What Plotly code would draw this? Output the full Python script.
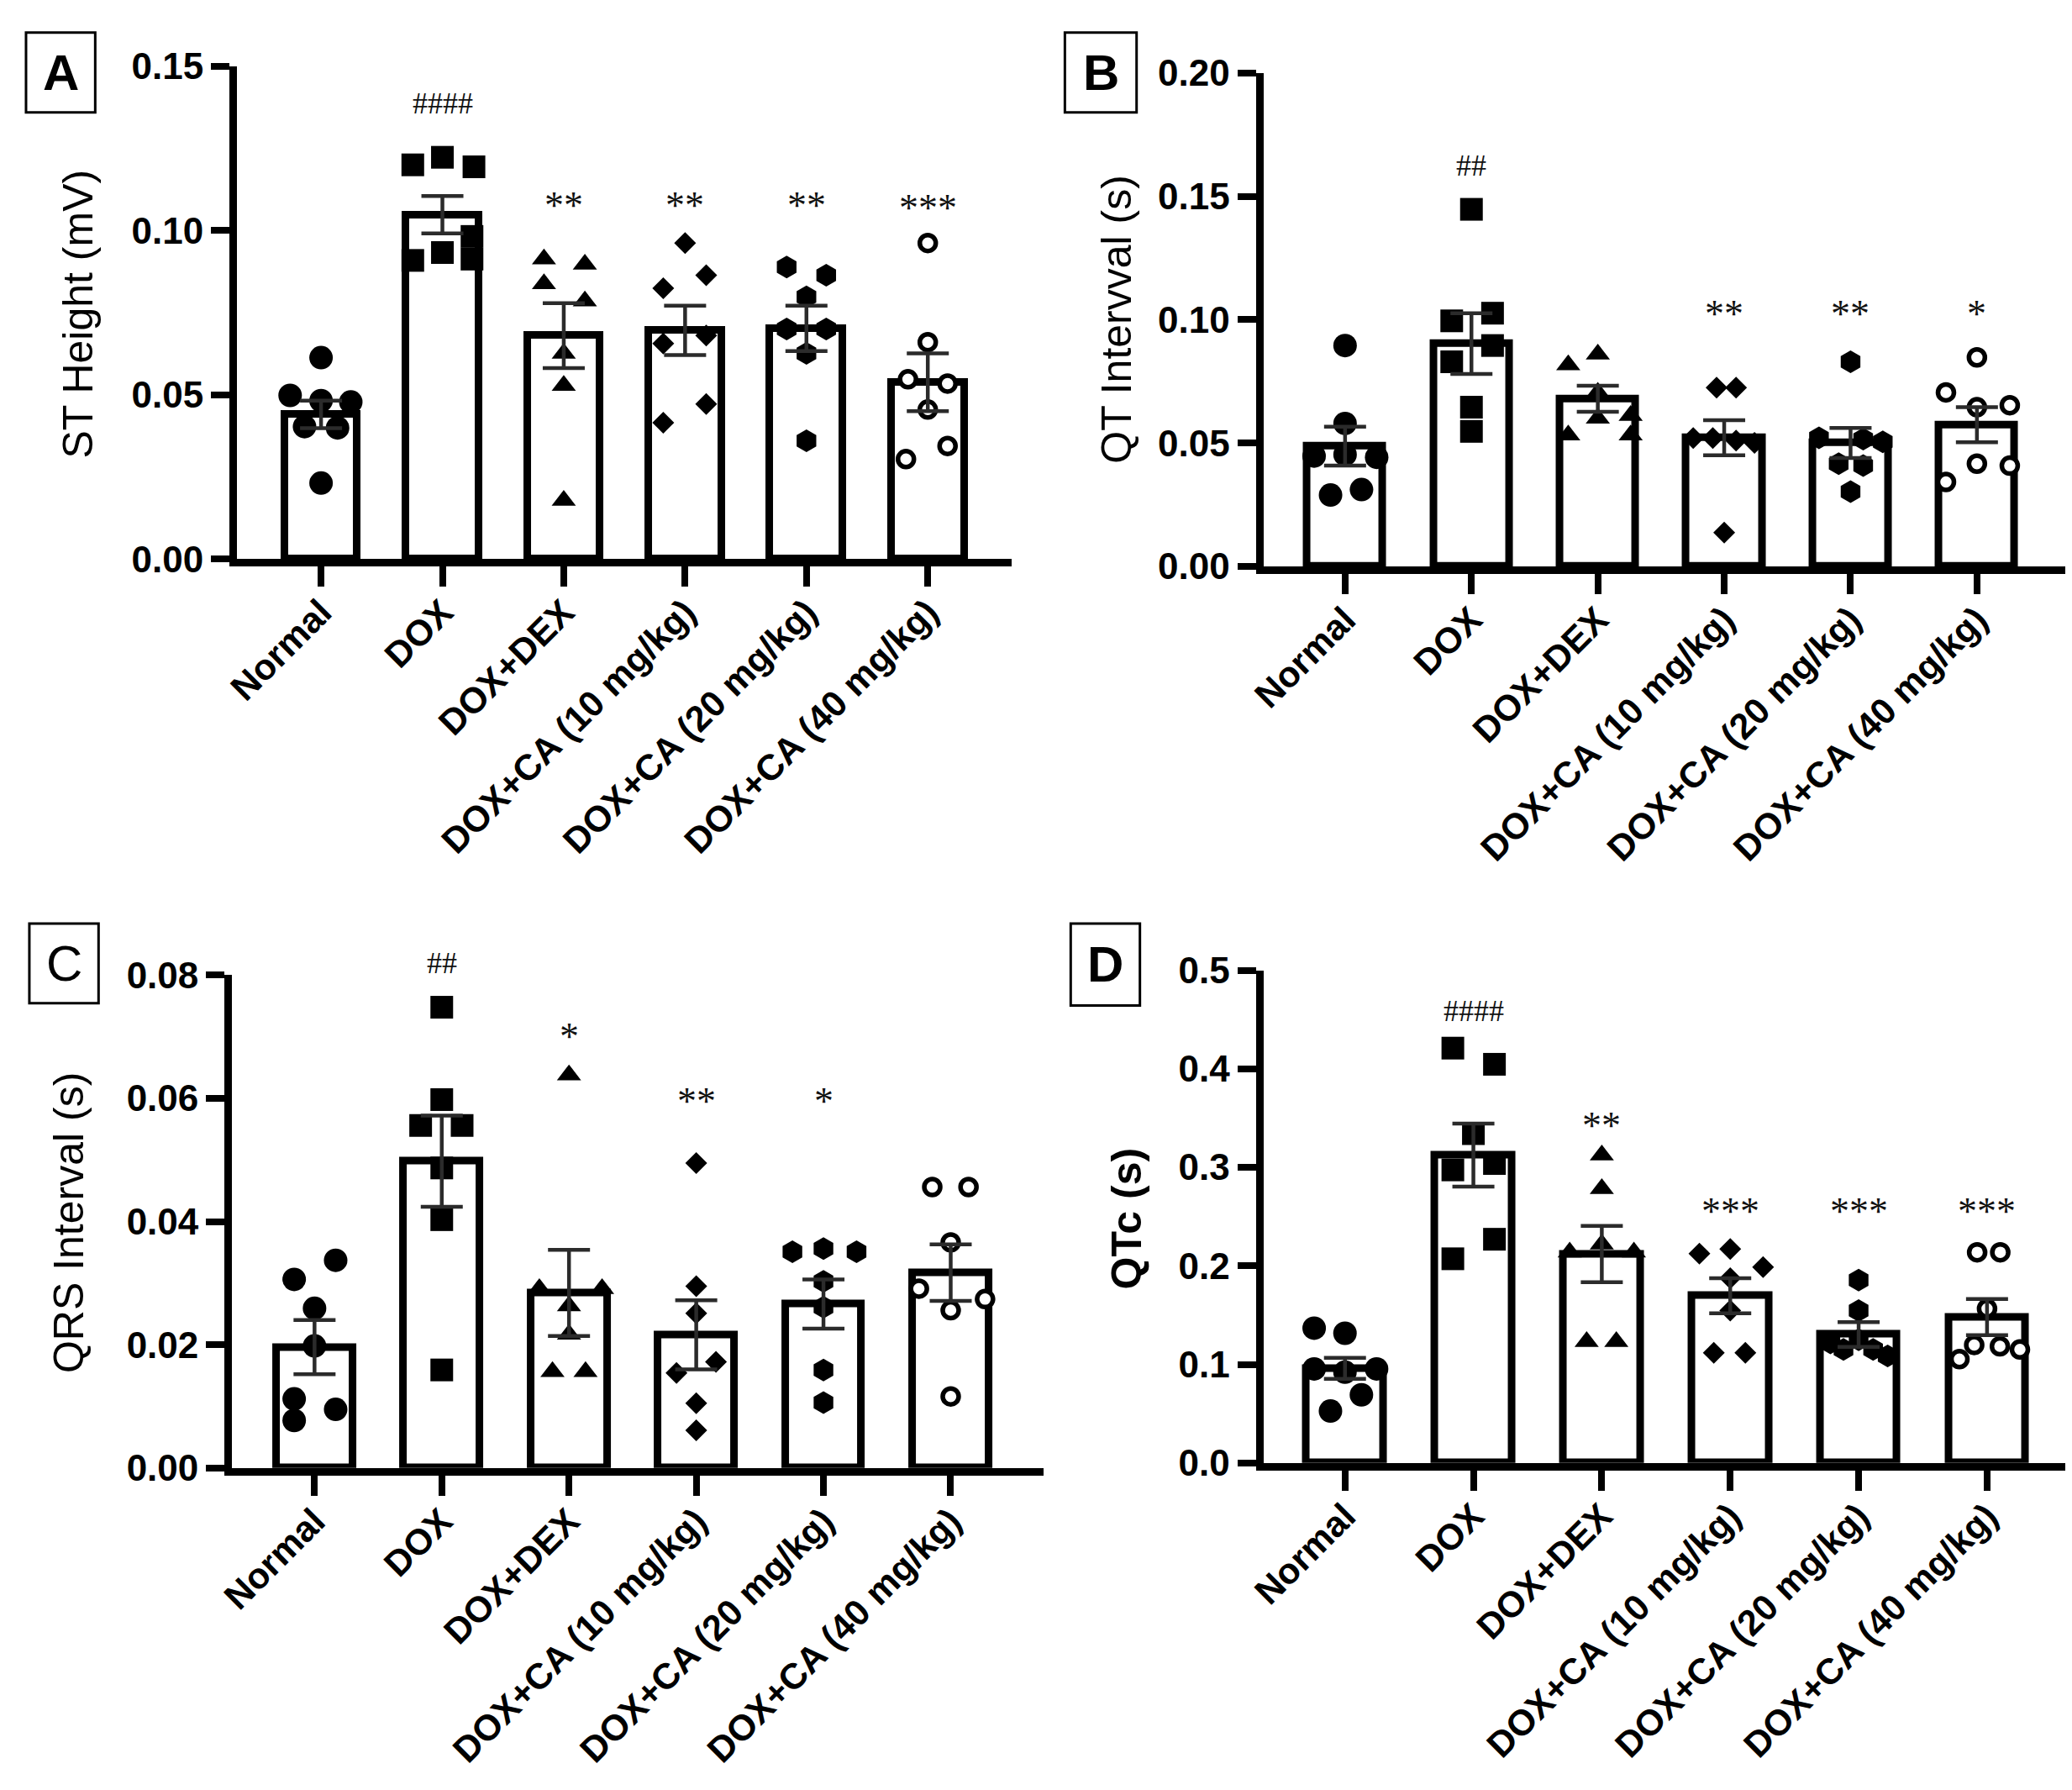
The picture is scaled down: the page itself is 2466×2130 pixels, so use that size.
import plotly.graph_objects as go

W, H = 2466, 2130

categories = ["Normal", "DOX", "DOX+DEX", "DOX+CA (10 mg/kg)",
              "DOX+CA (20 mg/kg)", "DOX+CA (40 mg/kg)"]

# ---------------- Panel A: ST Height (mV) ----------------
st_means = [0.0440, 0.1048, 0.0680, 0.0696, 0.0702, 0.0538]
st_sem = [0.0042, 0.0057, 0.0099, 0.0075, 0.0069, 0.0088]
st_points = [
    [0.0613, 0.0498, 0.0482, 0.0478, 0.0403, 0.0399, 0.0231],
    [0.1200, 0.1223, 0.1194, 0.0909, 0.0933, 0.0913, 0.0982],
    [0.0913, 0.0897, 0.0838, 0.0785, 0.0626, 0.0528, 0.0178],
    [0.0962, 0.0864, 0.0824, 0.0680, 0.0656, 0.0472, 0.0415],
    [0.0889, 0.0864, 0.0798, 0.0700, 0.0700, 0.0626, 0.0360],
    [0.0962, 0.0660, 0.0547, 0.0534, 0.0455, 0.0344, 0.0304],
]
st_dx = [
    [0, -0.255, 0, 0.245, -0.136, 0.136, 0],
    [-0.244, 0, 0.26, -0.244, 0, 0.244, 0.244],
    [-0.163, 0.174, -0.163, 0.174, 0, 0, 0],
    [0, 0.174, -0.18, 0.174, -0.18, 0.174, -0.18],
    [-0.163, 0.163, 0, -0.163, 0.163, 0, 0],
    [0, 0, -0.163, 0.163, 0, 0.163, -0.18],
]
st_sig = ["####", "**", "**", "**", "***"]
st_sig_x = [1, 2, 3, 4, 5]
st_sig_y = [0.1388, 0.1097, 0.1097, 0.1097, 0.1090]

# ---------------- Panel B: QT Interval (s) ----------------
qt_means = [0.0487, 0.0903, 0.0679, 0.0521, 0.0500, 0.0574]
qt_sem = [0.0079, 0.0123, 0.0053, 0.0071, 0.0061, 0.0071]
qt_points = [
    [0.0895, 0.0579, 0.0447, 0.0453, 0.0442, 0.0289, 0.0311],
    [0.1447, 0.1026, 0.0995, 0.0895, 0.0829, 0.0645, 0.0547],
    [0.0860, 0.0816, 0.0705, 0.0611, 0.0600, 0.0532, 0.0532],
    [0.0724, 0.0724, 0.0520, 0.0520, 0.0510, 0.0500, 0.0137],
    [0.0829, 0.0521, 0.0516, 0.0505, 0.0416, 0.0408, 0.0303],
    [0.0847, 0.0705, 0.0653, 0.0645, 0.0416, 0.0408, 0.0342],
]
qt_dx = [
    [0, 0, -0.245, 0, 0.25, -0.115, 0.13],
    [0, 0.167, -0.156, 0.167, -0.156, 0, 0],
    [0, -0.234, 0, 0.26, 0, -0.234, 0.26],
    [-0.06, 0.094, -0.245, -0.09, 0.094, 0.24, 0],
    [0, -0.25, 0.1, 0.255, -0.094, 0.1, 0],
    [0, -0.245, 0.26, 0, 0, 0.26, -0.245],
]
qt_sig = ["##", "**", "**", "*"]
qt_sig_x = [1, 3, 4, 5]
qt_sig_y = [0.1624, 0.1052, 0.1052, 0.1052]

# ---------------- Panel C: QRS Interval (s) ----------------
qrs_means = [0.0196, 0.0498, 0.0284, 0.0216, 0.0266, 0.0317]
qrs_sem = [0.0044, 0.0074, 0.0070, 0.0056, 0.0040, 0.0046]
qrs_points = [
    [0.0337, 0.0306, 0.0259, 0.0198, 0.0112, 0.0095, 0.0077],
    [0.0748, 0.0598, 0.0556, 0.0556, 0.0487, 0.0403, 0.0159],
    [0.0638, 0.0291, 0.0291, 0.0263, 0.0217, 0.0156, 0.0156],
    [0.0495, 0.0295, 0.0251, 0.0172, 0.0154, 0.0105, 0.0061],
    [0.0351, 0.0356, 0.0351, 0.0303, 0.0261, 0.0159, 0.0106],
    [0.0456, 0.0456, 0.0366, 0.0291, 0.0274, 0.0256, 0.0116],
]
qrs_dx = [
    [0.166, -0.16, 0, 0, -0.16, 0.166, -0.16],
    [0, 0, -0.166, 0.16, 0, 0, 0],
    [0, -0.233, 0.26, 0, 0, -0.13, 0.13],
    [0, 0, 0, 0.155, -0.155, 0, 0],
    [-0.244, 0, 0.26, 0, 0, 0, 0],
    [-0.145, 0.14, 0, -0.25, 0.27, 0, 0],
]
qrs_sig = ["##", "*", "**", "*"]
qrs_sig_x = [1, 2, 3, 4]
qrs_sig_y = [0.0819, 0.0711, 0.0606, 0.0606]

# ---------------- Panel D: QTc (s) ----------------
qtc_means = [0.0960, 0.3125, 0.2120, 0.1697, 0.1303, 0.1480]
qtc_sem = [0.0106, 0.0320, 0.0285, 0.0178, 0.0125, 0.0184]
qtc_points = [
    [0.1368, 0.1316, 0.0954, 0.0921, 0.0954, 0.0691, 0.0526],
    [0.4210, 0.4046, 0.3342, 0.3039, 0.2974, 0.2270, 0.2072],
    [0.3125, 0.2783, 0.2140, 0.2220, 0.2140, 0.1230, 0.1230],
    [0.2125, 0.2171, 0.1987, 0.1875, 0.1546, 0.1118, 0.1118],
    [0.1855, 0.1546, 0.1217, 0.1250, 0.1151, 0.1151, 0.1086],
    [0.2138, 0.2138, 0.1566, 0.1197, 0.1184, 0.1151, 0.1053],
]
qtc_dx = [
    [-0.24, 0, -0.24, 0, 0.246, 0.128, -0.113],
    [-0.16, 0.164, 0, 0.164, -0.16, 0.164, -0.16],
    [0, 0, -0.25, 0, 0.25, -0.118, 0.113],
    [-0.24, 0, 0.256, 0, 0, -0.128, 0.118],
    [0, 0, -0.22, 0, -0.118, 0.113, 0.226],
    [-0.077, 0.103, 0, -0.1, 0.1, 0.256, -0.215],
]
qtc_sig = ["####", "**", "***", "***", "***"]
qtc_sig_x = [1, 2, 3, 4, 5]
qtc_sig_y = [0.459, 0.349, 0.262, 0.262, 0.262]

# ---------------- styling ----------------
SANS = "Liberation Sans, Arial, sans-serif"
SERIF = "Liberation Serif, Times New Roman, serif"

marker_styles = [
    dict(symbol="circle", size=28, color="black"),
    dict(symbol="square", size=27, color="black"),
    dict(symbol="triangle-up", size=25, color="black"),
    dict(symbol="diamond", size=20, color="black"),
    dict(symbol="hexagon", size=27, color="black"),
    dict(symbol="circle", size=19, color="white", line=dict(color="black", width=5.5)),
]


def px_x(p):
    return p / W


def px_y(p):
    return 1 - p / H


panels = [
    dict(key="A", means=st_means, sem=st_sem, pts=st_points, dx=st_dx,
         sig=st_sig, sig_x=st_sig_x, sig_y=st_sig_y,
         xdom=(257, 1186), ydom=(47, 647), xr=(-0.693, 5.69), yr=(0, 0.15),
         yt=[0, 0.05, 0.10, 0.15], fmt=".2f", title="ST Height (mV)",
         title_xy=(67, 348), box=(4, 6, 87, 103), bold_letter=True, bold_title=False),
    dict(key="B", means=qt_means, sem=qt_sem, pts=qt_points, dx=qt_dx,
         sig=qt_sig, sig_x=qt_sig_x, sig_y=qt_sig_y,
         xdom=(1488, 2450), ydom=(55, 656), xr=(-0.647, 5.70), yr=(0, 0.20),
         yt=[0, 0.05, 0.10, 0.15, 0.20], fmt=".2f", title="QT Intervval (s)",
         title_xy=(1312, 355), box=(1250, 6, 1336, 103), bold_letter=True, bold_title=False),
    dict(key="C", means=qrs_means, sem=qrs_sem, pts=qrs_points, dx=qrs_dx,
         sig=qrs_sig, sig_x=qrs_sig_x, sig_y=qrs_sig_y,
         xdom=(251, 1224), ydom=(1154, 1754), xr=(-0.649, 5.727), yr=(0, 0.08),
         yt=[0, 0.02, 0.04, 0.06, 0.08], fmt=".2f", title="QRS Interval (s)",
         title_xy=(55, 1456), box=(8, 1091, 91, 1188), bold_letter=False, bold_title=False),
    dict(key="D", means=qtc_means, sem=qtc_sem, pts=qtc_points, dx=qtc_dx,
         sig=qtc_sig, sig_x=qtc_sig_x, sig_y=qtc_sig_y,
         xdom=(1488, 2460), ydom=(1148, 1748), xr=(-0.636, 5.675), yr=(0, 0.5),
         yt=[0, 0.1, 0.2, 0.3, 0.4, 0.5], fmt=".1f", title="QTc (s)",
         title_xy=(1324, 1450), box=(1257, 1091, 1340, 1191), bold_letter=True, bold_title=True),
]

fig = go.Figure()
layout = dict(width=W, height=H, margin=dict(l=0, r=0, t=0, b=0),
              paper_bgcolor="white", plot_bgcolor="white", showlegend=False)
annotations = []
shapes = []

idx = list(range(len(categories)))

for i, p in enumerate(panels):
    n = "" if i == 0 else str(i + 1)
    xa, ya = "x" + n, "y" + n
    # bars
    fig.add_trace(go.Bar(x=idx, y=p["means"], width=0.6, xaxis=xa, yaxis=ya,
                         marker=dict(color="white", line=dict(color="black", width=9)),
                         hoverinfo="skip"))
    # individual points
    for g in idx:
        xs = [g + d for d in p["dx"][g]]
        fig.add_trace(go.Scatter(x=xs, y=p["pts"][g], mode="markers", xaxis=xa, yaxis=ya,
                                 marker=marker_styles[g], cliponaxis=False,
                                 hoverinfo="skip"))
    # error bars (SEM)
    fig.add_trace(go.Scatter(x=idx, y=p["means"], mode="markers", xaxis=xa, yaxis=ya,
                             marker=dict(size=1, color="rgba(0,0,0,0)"),
                             error_y=dict(type="data", array=p["sem"], visible=True,
                                          color="#2b2b2b", thickness=4.5, width=25),
                             cliponaxis=False, hoverinfo="skip"))
    xkey = "xaxis" + n
    ykey = "yaxis" + n
    ymax = p["yr"][1]
    layout[xkey] = dict(
        domain=[px_x(p["xdom"][0]), px_x(p["xdom"][1])], anchor=ya,
        range=list(p["xr"]), tickmode="array", tickvals=idx, ticktext=categories,
        tickangle=-45, ticks="outside", ticklen=24, tickwidth=8, tickcolor="black",
        ticklabelstandoff=-12,
        showline=True, linewidth=9, linecolor="black", showgrid=False, zeroline=False,
        tickfont=dict(family=SANS, size=43, color="black", weight="bold"))
    layout[ykey] = dict(
        domain=[px_y(p["ydom"][1]), px_y(p["ydom"][0])], anchor=xa,
        range=list(p["yr"]), tickmode="array", tickvals=p["yt"], tickformat=p["fmt"],
        ticks="outside", ticklen=22, tickwidth=8, tickcolor="black",
        showline=True, linewidth=9, linecolor="black", showgrid=False, zeroline=False,
        tickfont=dict(family=SANS, size=44, color="black", weight="bold"))
    # significance marks
    for s, sx, sy in zip(p["sig"], p["sig_x"], p["sig_y"]):
        is_hash = s.startswith("#")
        shift = 0 if is_hash else -8
        if sy > ymax:
            # keep the annotation anchored inside the axis range, lift by pixels
            plot_h = p["ydom"][1] - p["ydom"][0]
            shift += (sy - ymax) / (ymax - p["yr"][0]) * plot_h
            sy = ymax
        annotations.append(dict(
            x=sx, y=sy, xref=xa, yref=ya, text=s, showarrow=False,
            xanchor="center", yanchor="middle", yshift=shift,
            font=dict(family=SERIF, size=(36 if is_hash else 46), color="#111")))
    # axis title
    tx, ty = p["title_xy"]
    annotations.append(dict(
        x=px_x(tx), y=px_y(ty), xref="paper", yref="paper", text=p["title"],
        showarrow=False, textangle=-90, xanchor="center", yanchor="middle",
        font=dict(family=SANS, size=50, color="black",
                  weight=("bold" if p["bold_title"] else "normal"))))
    # panel letter box
    bx0, by0, bx1, by1 = p["box"]
    shapes.append(dict(type="rect", xref="paper", yref="paper",
                       x0=px_x(bx0), x1=px_x(bx1), y0=px_y(by1), y1=px_y(by0),
                       line=dict(color="black", width=3), fillcolor="white"))
    annotations.append(dict(
        x=px_x((bx0 + bx1) / 2), y=px_y((by0 + by1) / 2), xref="paper", yref="paper",
        text=p["key"], showarrow=False, xanchor="center", yanchor="middle",
        font=dict(family=SANS, size=60, color="black",
                  weight=("bold" if p["bold_letter"] else "normal"))))

layout["annotations"] = annotations
layout["shapes"] = shapes
layout["bargap"] = 0
fig.update_layout(**layout)

fig.write_html("out.html")
